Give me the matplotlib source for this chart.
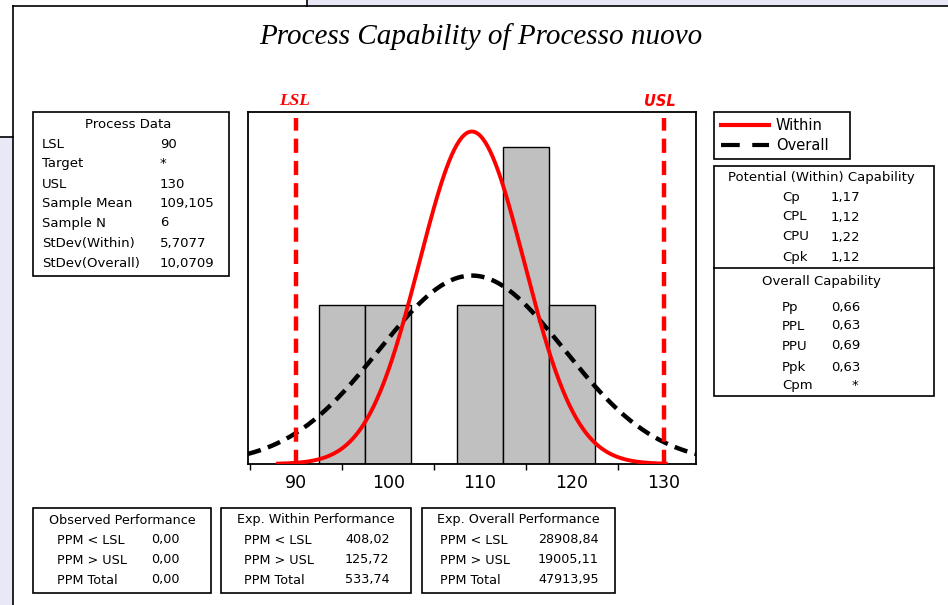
import matplotlib.pyplot as plt
import numpy as np
from matplotlib.patches import Rectangle

# data
bin_edges = [92.5, 97.5, 102.5, 107.5, 112.5, 117.5, 122.5]
counts = [1, 1, 0, 1, 2, 1]
lsl = 90
usl = 130
mean = 109.105
sd_within = 5.7077
sd_overall = 10.0709
n = 6

process_labels = ["LSL", "Target", "USL", "Sample Mean", "Sample N", "StDev(Within)", "StDev(Overall)"]
process_values = ["90", "*", "130", "109,105", "6", "5,7077", "10,0709"]

within_labels = ["Cp", "CPL", "CPU", "Cpk"]
within_values = ["1,17", "1,12", "1,22", "1,12"]
overall_labels = ["Pp", "PPL", "PPU", "Ppk", "Cpm"]
overall_values = ["0,66", "0,63", "0,69", "0,63", "*"]

ppm_labels = ["PPM < LSL", "PPM > USL", "PPM Total"]
obs_ppm = ["0,00", "0,00", "0,00"]
exp_within_ppm = ["408,02", "125,72", "533,74"]
exp_overall_ppm = ["28908,84", "19005,11", "47913,95"]

W, H = 948, 605
fig = plt.figure(figsize=(W / 100, H / 100), dpi=100)

# background layer in pixel coordinates
bg = fig.add_axes([0, 0, 1, 1], zorder=0)
bg.set_xlim(0, W)
bg.set_ylim(H, 0)
bg.axis("off")
lav = "#e8e8f7"
bg.add_patch(Rectangle((0, 137), 13, H - 137, color=lav, lw=0))
bg.add_patch(Rectangle((307, 0), W - 307, 6, color=lav, lw=0))
bg.plot([13, 13], [6, H], color="black", lw=1.2)
bg.plot([13, W], [6, 6], color="black", lw=1.2)
bg.plot([0, 13], [137, 137], color="black", lw=1.2)
bg.plot([307, 307], [0, 6], color="black", lw=1.2)

bg.text(481, 37, "Process Capability of Processo nuovo", family="Liberation Serif",
        style="italic", fontsize=21, ha="center", va="center")
bg.text(295, 101, "LSL", family="Liberation Serif", style="italic", weight="bold",
        color="red", fontsize=12.5, ha="center", va="center")
bg.text(660, 101, "USL", family="DejaVu Sans", style="italic", weight="bold",
        color="red", fontsize=10.5, ha="center", va="center")

fs = 9.5


def box(x0, y0, x1, y1):
    bg.add_patch(Rectangle((x0, y0), x1 - x0, y1 - y0, fill=False, ec="black", lw=1.2))


# process data box
box(33, 112, 229, 276)
bg.text(128, 124, "Process Data", fontsize=fs, ha="center", va="center")
rows_y = [144, 163, 184, 204, 223, 244, 263]
for lab, val, y in zip(process_labels, process_values, rows_y):
    bg.text(42, y, lab, fontsize=fs, va="center")
    bg.text(160, y, val, fontsize=fs, va="center")

# legend
box(714, 112, 850, 159)
bg.plot([721, 769], [125, 125], color="red", lw=3)
bg.plot([721, 769], [145, 145], color="black", lw=3, dashes=(4.5, 3))
bg.text(776, 125, "Within", fontsize=10.5, va="center")
bg.text(776, 146, "Overall", fontsize=10.5, va="center")

# capability box
box(714, 166, 934, 396)
bg.plot([714, 934], [268, 268], color="black", lw=1.2)
bg.text(821, 177, "Potential (Within) Capability", fontsize=fs, ha="center", va="center")
for lab, val, y in zip(within_labels, within_values, [197, 217, 237, 258]):
    bg.text(782, y, lab, fontsize=fs, va="center")
    bg.text(831, y, val, fontsize=fs, va="center")
bg.text(821, 282, "Overall Capability", fontsize=fs, ha="center", va="center")
for lab, val, y in zip(overall_labels, overall_values, [307, 326, 346, 367, 386]):
    bg.text(782, y, lab, fontsize=fs, va="center")
    if val == "*":
        bg.text(855, y, val, fontsize=fs, ha="center", va="center")
    else:
        bg.text(831, y, val, fontsize=fs, va="center")

# performance boxes
perf = [("Observed Performance", obs_ppm, 33, 211, 57, 151),
        ("Exp. Within Performance", exp_within_ppm, 221, 411, 244, 345),
        ("Exp. Overall Performance", exp_overall_ppm, 422, 615, 440, 538)]
for title, vals, x0, x1, xl, xv in perf:
    box(x0, 508, x1, 593)
    bg.text((x0 + x1) / 2, 520, title, fontsize=9.2, ha="center", va="center")
    for lab, val, y in zip(ppm_labels, vals, [540, 560, 580]):
        bg.text(xl, y, lab, fontsize=9.2, va="center")
        bg.text(xv, y, val, fontsize=9.2, va="center")

# main histogram axes
ax = fig.add_axes([248 / W, 1 - 464 / H, 448 / W, 352 / H], zorder=2)
width = bin_edges[1] - bin_edges[0]
ax.bar(bin_edges[:-1], counts, width=width, align="edge", color="#c0c0c0",
       edgecolor="black", lw=1, zorder=1)

scale = n * width
xw = np.linspace(88, 130.2, 300)
yw = scale / (sd_within * np.sqrt(2 * np.pi)) * np.exp(-0.5 * ((xw - mean) / sd_within) ** 2)
xo = np.linspace(84.75, 133.5, 300)
yo = scale / (sd_overall * np.sqrt(2 * np.pi)) * np.exp(-0.5 * ((xo - mean) / sd_overall) ** 2)
ax.plot(xo, yo, color="black", lw=3.2, dashes=(3, 1.7), zorder=3)
ax.plot(xw, yw, color="red", lw=2.8, zorder=4)

ax.vlines([lsl, usl], 0, 2.18, color="red", lw=3.2, linestyles=(0, (3.2, 1.8)), zorder=5)

ax.set_xlim(84.75, 133.5)
ax.set_ylim(0, 2.22)
ax.set_yticks([])
ax.set_xticks([90, 100, 110, 120, 130])
ax.set_xticks([85, 95, 105, 115, 125], minor=True)
ax.tick_params(axis="x", which="major", length=0, pad=7, labelsize=12.5)
ax.tick_params(axis="x", which="minor", length=4, width=1, direction="out")
for s in ax.spines.values():
    s.set_linewidth(1.3)

fig.savefig("out.png", dpi=100)
